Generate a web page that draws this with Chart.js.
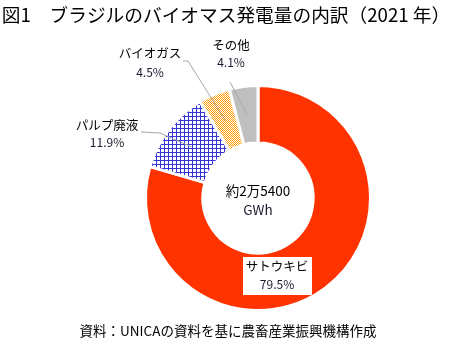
<!DOCTYPE html>
<html>
<head>
<meta charset="utf-8">
<script src="https://cdn.jsdelivr.net/npm/chart.js@4"></script>
<style>
  html, body { margin: 0; padding: 0; background: #fff; }
  #wrap { width: 453px; height: 351px; }
</style>
</head>
<body>
<div id="wrap"><canvas id="bioChart" width="453" height="351"></canvas></div>
<script>
// 内訳データ
const categories = ['サトウキビ', 'パルプ廃液', 'バイオガス', 'その他'];
const shares = [79.5, 11.9, 4.5, 4.1];
const shareLabels = ['79.5%', '11.9%', '4.5%', '4.1%'];
const titleText = '図1　ブラジルのバイオマス発電量の内訳（2021 年）';
const footerText = '資料：UNICAの資料を基に農畜産業振興機構作成';
const centerLines = ['約2万5400', 'GWh'];

const FONT = '"Noto Sans CJK JP", "Noto Sans", sans-serif';

// 塗りパターン
function gridPattern() {
    const c = document.createElement('canvas');
    c.width = 4; c.height = 4;
    const g = c.getContext('2d');
    g.fillStyle = '#ffffff';
    g.fillRect(0, 0, 4, 4);
    g.fillStyle = '#3434dc';
    g.fillRect(0, 0, 4, 1);
    g.fillRect(0, 0, 1, 4);
    return g.createPattern(c, 'repeat');
}
function checkPattern() {
    const c = document.createElement('canvas');
    c.width = 2; c.height = 2;
    const g = c.getContext('2d');
    g.fillStyle = '#ffffff';
    g.fillRect(0, 0, 2, 2);
    g.fillStyle = '#ff9c00';
    g.fillRect(0, 0, 1, 1);
    g.fillRect(1, 1, 1, 1);
    return g.createPattern(c, 'repeat');
}

const annotations = {
    id: 'annotations',
    afterDraw(chart) {
        const ctx = chart.ctx;
        const arcs = chart.getDatasetMeta(0).data;
        ctx.save();
        ctx.textAlign = 'center';
        ctx.textBaseline = 'middle';

        // タイトル・出典
        ctx.fillStyle = '#000';
        ctx.font = '18.7px ' + FONT;
        ctx.fillText(titleText, 226, 15);
        ctx.font = '13.5px ' + FONT;
        ctx.fillText(footerText, 228, 331);

        // 引き出し線
        ctx.strokeStyle = '#a6a6a6';
        ctx.lineWidth = 1;
        const leaders = [
            null,
            [[141, 132], [160, 133]],
            [[183, 61], [188, 61]],
            [[230, 82]]
        ];
        leaders.forEach((pts, i) => {
            if (!pts) return;
            const p = arcs[i].getCenterPoint();
            ctx.beginPath();
            ctx.moveTo(pts[0][0], pts[0][1]);
            for (let k = 1; k < pts.length; k++) ctx.lineTo(pts[k][0], pts[k][1]);
            ctx.lineTo(p.x, p.y);
            ctx.stroke();
        });

        // サトウキビのラベル枠
        ctx.fillStyle = '#fff';
        ctx.fillRect(243, 257, 69, 38);

        const labelPos = [[277, 266, 284], [107, 125, 142], [150, 53, 72], [231, 45, 62]];
        labelPos.forEach((p, i) => {
            ctx.fillStyle = '#000';
            ctx.font = '12.5px ' + FONT;
            ctx.fillText(categories[i], p[0], p[1]);
            ctx.fillStyle = '#1a1a2e';
            ctx.font = '12px ' + FONT;
            ctx.fillText(shareLabels[i], p[0], p[2]);
        });

        // 中央の合計
        const cx = arcs[0].x, cy = arcs[0].y;
        ctx.fillStyle = '#000';
        ctx.font = '13.5px ' + FONT;
        ctx.fillText(centerLines[0], cx, cy - 7);
        ctx.fillStyle = '#1a1a2e';
        ctx.fillText(centerLines[1], cx, cy + 12);
        ctx.restore();
    }
};

new Chart(document.getElementById('bioChart'), {
    type: 'doughnut',
    data: {
        labels: categories,
        datasets: [{
            data: shares,
            backgroundColor: ['#ff3300', gridPattern(), checkPattern(), '#bfbfbf'],
            borderColor: '#ffffff',
            borderWidth: 3
        }]
    },
    options: {
        responsive: false,
        animation: false,
        cutout: '49%',
        layout: {
            padding: { left: 144, right: 81, top: 83, bottom: 38 }
        },
        plugins: {
            legend: { display: false },
            tooltip: { enabled: false }
        }
    },
    plugins: [annotations]
});
</script>
</body>
</html>
